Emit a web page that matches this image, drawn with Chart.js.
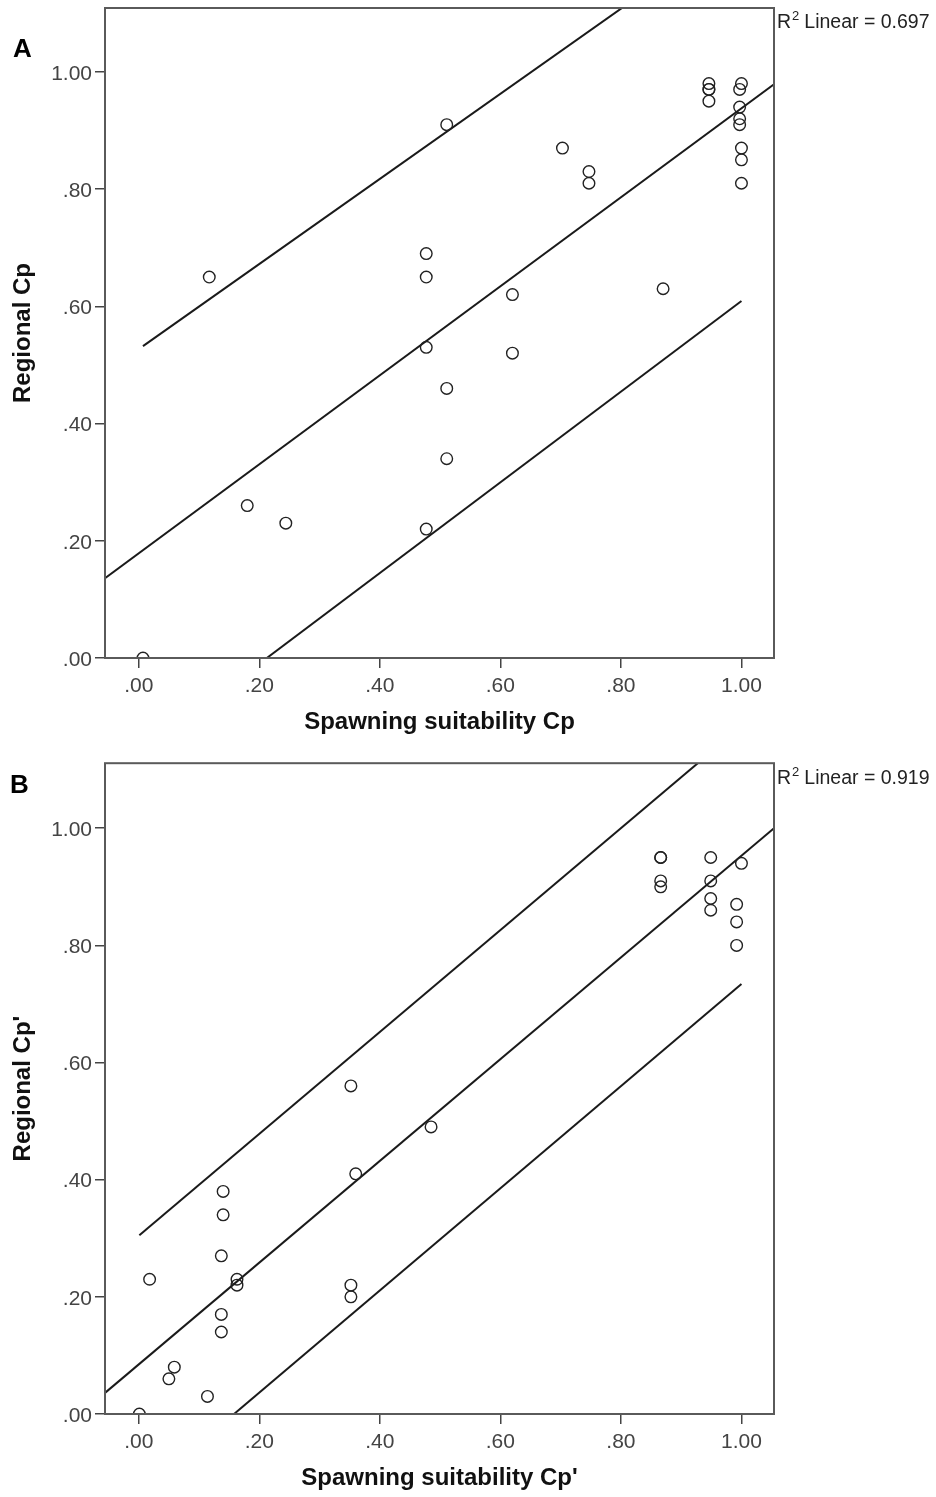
<!DOCTYPE html>
<html>
<head>
<meta charset="utf-8">
<script src="https://cdn.jsdelivr.net/npm/chart.js@4.4.1/dist/chart.umd.min.js"></script>
<style>
  html, body { margin: 0; padding: 0; background: #fff; overflow: hidden; width: 936px; height: 1497px; }
  .panel { position: absolute; left: 0; width: 936px; height: 748px; }
  #panelA { top: 0; }
  #panelB { top: 756px; }
</style>
</head>
<body>
<div class="panel" id="panelA"><canvas id="chartA" width="936" height="748"></canvas></div>
<div class="panel" id="panelB"><canvas id="chartB" width="936" height="748"></canvas></div>
<script>
// Shared axis ticks
const tickValues = [0, 0.2, 0.4, 0.6, 0.8, 1.0];
const tickLabels = ['.00', '.20', '.40', '.60', '.80', '1.00'];

// Panel A: spawning suitability Cp vs regional Cp
const panelAX = [0.007, 0.117, 0.180, 0.244, 0.477, 0.477, 0.477, 0.477, 0.511, 0.511, 0.511,
                 0.620, 0.620, 0.703, 0.747, 0.747, 0.870, 0.946, 0.946, 0.946, 0.946,
                 1.000, 0.997, 0.997, 0.997, 0.997, 1.000, 1.000, 1.000];
const panelAY = [0.00, 0.65, 0.26, 0.23, 0.69, 0.65, 0.53, 0.22, 0.91, 0.46, 0.34,
                 0.62, 0.52, 0.87, 0.83, 0.81, 0.63, 0.98, 0.97, 0.97, 0.95,
                 0.98, 0.97, 0.94, 0.92, 0.91, 0.87, 0.85, 0.81];
// Fit line and prediction bounds (end points)
const fitAX = [-0.056, 1.054];
const fitAY = [0.136, 0.979];
const upperAX = [0.007, 1.000];
const upperAY = [0.532, 1.253];
const lowerAX = [0.007, 1.000];
const lowerAY = [-0.159, 0.609];

// Panel B: spawning suitability Cp' vs regional Cp'
const panelBX = [0.001, 0.018, 0.050, 0.059, 0.114, 0.137, 0.137, 0.137, 0.140, 0.140, 0.163, 0.163,
                 0.352, 0.352, 0.352, 0.360, 0.485, 0.866, 0.866, 0.866, 0.866,
                 0.949, 0.949, 0.949, 0.949, 1.000, 0.992, 0.992, 0.992];
const panelBY = [0.00, 0.23, 0.06, 0.08, 0.03, 0.14, 0.17, 0.27, 0.34, 0.38, 0.23, 0.22,
                 0.22, 0.20, 0.56, 0.41, 0.49, 0.95, 0.95, 0.91, 0.90,
                 0.95, 0.91, 0.88, 0.86, 0.94, 0.87, 0.84, 0.80];
const fitBX = [-0.056, 1.054];
const fitBY = [0.036, 1.000];
const upperBX = [0.001, 1.000];
const upperBY = [0.305, 1.174];
const lowerBX = [0.001, 1.000];
const lowerBY = [-0.137, 0.734];

const FONT = '"Liberation Sans", Arial, sans-serif';

function pairs(xs, ys) { return xs.map((x, i) => ({ x, y: ys[i] })); }

// Frame, panel letter and R² annotation
const panelDecor = {
  id: 'panelDecor',
  afterDraw(chart, args, o) {
    const { ctx, chartArea: a } = chart;
    ctx.save();
    ctx.strokeStyle = '#5a5a5a';
    ctx.lineWidth = 2;
    ctx.strokeRect(a.left, a.top, a.right - a.left, a.bottom - a.top);

    ctx.fillStyle = '#000';
    ctx.textAlign = 'left';
    ctx.textBaseline = 'alphabetic';
    ctx.font = 'bold 26px ' + FONT;
    ctx.fillText(o.letter, o.letterX, o.letterY);

    ctx.fillStyle = '#222';
    let x = a.right + 3;
    const base = o.r2Y;
    ctx.font = '19.5px ' + FONT;
    ctx.fillText('R', x, base);
    x += ctx.measureText('R').width + 1;
    ctx.font = '13px ' + FONT;
    ctx.fillText('2', x, base - 8);
    x += ctx.measureText('2').width + 5;
    ctx.font = '19.5px ' + FONT;
    ctx.fillText('Linear = ' + o.r2, x, base);
    ctx.restore();
  }
};

function makePanel(id, cfg) {
  const lineStyle = { type: 'line', showLine: true, pointRadius: 0, borderColor: '#1a1a1a',
                      borderWidth: 2, fill: false, tension: 0 };
  return new Chart(document.getElementById(id), {
    type: 'scatter',
    data: {
      datasets: [
        { data: pairs(cfg.xs, cfg.ys), pointStyle: 'circle', pointRadius: 5.8, pointBorderWidth: 1.4,
          borderColor: '#222', backgroundColor: 'rgba(0,0,0,0)', clip: 0 },
        Object.assign({ data: pairs(cfg.fitX, cfg.fitY) }, lineStyle),
        Object.assign({ data: pairs(cfg.upX, cfg.upY) }, lineStyle),
        Object.assign({ data: pairs(cfg.loX, cfg.loY) }, lineStyle)
      ]
    },
    options: {
      responsive: false,
      animation: false,
      events: [],
      layout: { padding: { left: 0, top: cfg.top, right: 162, bottom: 0 } },
      plugins: {
        legend: { display: false },
        tooltip: { enabled: false },
        panelDecor: { letter: cfg.letter, letterX: cfg.letterX, letterY: cfg.letterY, r2: cfg.r2, r2Y: 28 }
      },
      scales: {
        x: {
          type: 'linear', min: -0.056, max: 1.054,
          afterBuildTicks: s => { s.ticks = tickValues.map(v => ({ value: v })); },
          afterFit: s => { s.height = 748 - 658; s.paddingLeft = 0; s.paddingRight = 0; },
          border: { display: false },
          grid: { display: true, drawOnChartArea: false, drawTicks: true, tickLength: 10,
                  color: '#444', lineWidth: 1.5 },
          ticks: { autoSkip: false, maxRotation: 0, padding: 6, color: '#444',
                   font: { family: FONT, size: 21 },
                   callback: (v, i) => tickLabels[i] },
          title: { display: true, text: cfg.xTitle, color: '#111',
                   font: { family: FONT, size: 24, weight: 'bold' }, padding: { top: 0, bottom: 11 } }
        },
        y: {
          type: 'linear', min: 0, max: cfg.yMax,
          afterBuildTicks: s => { s.ticks = tickValues.map(v => ({ value: v })); },
          afterFit: s => { s.width = 105; s.paddingTop = 0; s.paddingBottom = 0; },
          border: { display: false },
          grid: { display: true, drawOnChartArea: false, drawTicks: true, tickLength: 10,
                  color: '#444', lineWidth: 1.5 },
          ticks: { autoSkip: false, padding: 3, color: '#444', labelOffset: 2,
                   font: { family: FONT, size: 21 },
                   callback: (v, i) => tickLabels[i] },
          title: { display: true, text: cfg.yTitle, color: '#111',
                   font: { family: FONT, size: 24, weight: 'bold' }, padding: { top: 9, bottom: 0 } }
        }
      }
    },
    plugins: [panelDecor]
  });
}

makePanel('chartA', {
  xs: panelAX, ys: panelAY, fitX: fitAX, fitY: fitAY, upX: upperAX, upY: upperAY, loX: lowerAX, loY: lowerAY,
  letter: 'A', letterX: 13, letterY: 57, r2: '0.697', yMax: 1.109, top: 8,
  xTitle: 'Spawning suitability Cp', yTitle: 'Regional Cp'
});
makePanel('chartB', {
  xs: panelBX, ys: panelBY, fitX: fitBX, fitY: fitBY, upX: upperBX, upY: upperBY, loX: lowerBX, loY: lowerBY,
  letter: 'B', letterX: 10, letterY: 37, r2: '0.919', yMax: 1.111, top: 7,
  xTitle: "Spawning suitability Cp'", yTitle: "Regional Cp'"
});
</script>
</body>
</html>
